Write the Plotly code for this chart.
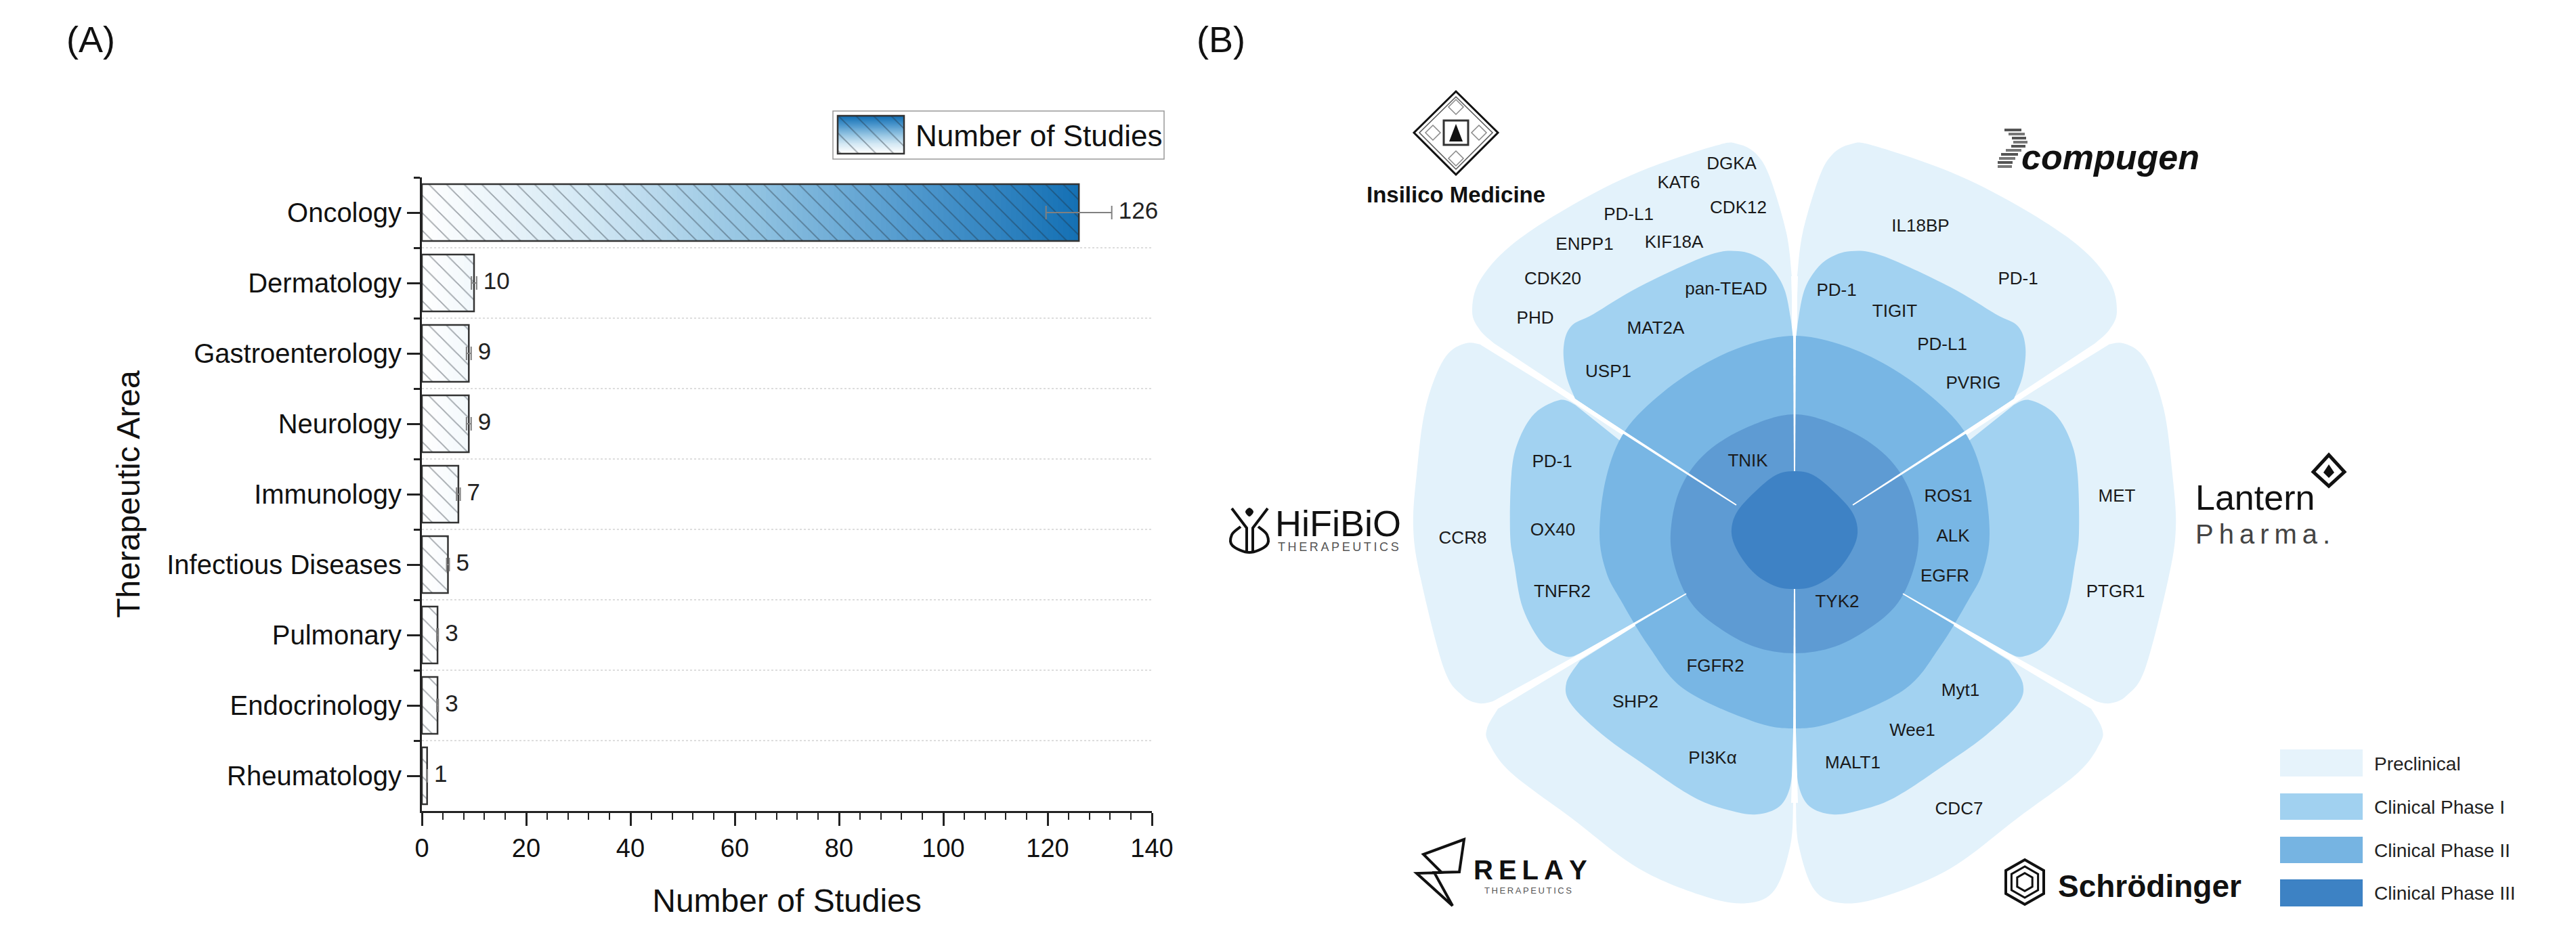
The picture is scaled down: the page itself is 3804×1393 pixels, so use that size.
import numpy as np
import plotly.graph_objects as go

# panel A data
categories = ["Oncology", "Dermatology", "Gastroenterology", "Neurology", "Immunology",
              "Infectious Diseases", "Pulmonary", "Endocrinology", "Rheumatology"]
studies = [126, 10, 9, 9, 7, 5, 3, 3, 1]
error_pct = 5
x_ticks = [0, 20, 40, 60, 80, 100, 120, 140]

# panel B labels (positions are in reference pixels, the page-sized x2/y2 axes)
gene_names = ["DGKA", "KAT6", "CDK12", "PD-L1", "ENPP1", "KIF18A", "CDK20", "PHD", "pan-TEAD", "MAT2A",
              "USP1", "PD-1", "TNIK", "PD-1", "TIGIT", "IL18BP", "PD-1", "PD-L1", "PVRIG", "OX40",
              "CCR8", "TNFR2", "TYK2", "FGFR2", "SHP2", "PI3Kα", "MALT1", "ROS1", "ALK", "EGFR",
              "MET", "PTGR1", "Myt1", "Wee1", "CDC7"]
gene_x = [2557, 2479, 2567, 2405, 2340, 2472, 2293, 2267, 2549, 2445,
          2375, 2292, 2581, 2712, 2798, 2836, 2980, 2868, 2914, 2293,
          2160, 2307, 2713, 2533, 2415, 2529, 2736, 2877, 2884, 2872,
          3126, 3124, 2895, 2824, 2893]
gene_y = [243, 271, 308, 318, 362, 359, 413, 471, 428, 486,
          550, 683, 682, 430, 461, 335, 413, 510, 567, 784,
          796, 875, 890, 985, 1038, 1121, 1128, 734, 793, 852,
          734, 875, 1021, 1080, 1196]
phases = ["Preclinical", "Clinical Phase I", "Clinical Phase II", "Clinical Phase III"]
phase_swatch_colors = ["#e6f3fb", "#a1d1f0", "#76b4e2", "#3d82c4"]

W, H = 3804, 1393
CX = 2650
FONT = "Liberation Sans"
PRE, PH1, PH2, PH3, CORE = "#e3f2fb", "#a2d2f1", "#78b6e4", "#5e9bd3", "#3e82c5"
BAR_SCALE = [[0, "#ffffff"], [0.25, "#d3e8f4"], [0.5, "#93c4e2"], [0.75, "#4f98cd"], [1, "#1470b4"]]
# plotly spaces diagonal hatch by size*sqrt(2) along x, so 18.4 gives the 26 px of the reference
HATCH = dict(shape="\\", size=18.4, solidity=0.1, fgcolor="rgba(30,40,50,0.8)", bgcolor="rgba(0,0,0,0)")


def mirror(pts):
    return [(2 * CX - x, y) for x, y in pts]


def spline(pts, closed=False):
    """Catmull-Rom through the anchors, written as SVG cubic segments."""
    n = len(pts)
    d = f"M{pts[0][0]},{pts[0][1]}"
    for i in range(n if closed else n - 1):
        if closed:
            p0, p1, p2, p3 = pts[(i - 1) % n], pts[i], pts[(i + 1) % n], pts[(i + 2) % n]
        else:
            p0, p1, p2, p3 = pts[max(i - 1, 0)], pts[i], pts[i + 1], pts[min(i + 2, n - 1)]
        c1 = (p1[0] + (p2[0] - p0[0]) / 6, p1[1] + (p2[1] - p0[1]) / 6)
        c2 = (p2[0] - (p3[0] - p1[0]) / 6, p2[1] - (p3[1] - p1[1]) / 6)
        d += f"C{c1[0]:.1f},{c1[1]:.1f} {c2[0]:.1f},{c2[1]:.1f} {p2[0]},{p2[1]}"
    return d + ("Z" if closed else "")


def petal(curve, inner):
    # smooth outer edge, straight run back through the middle of the flower
    return spline(curve) + "".join(f"L{x},{y}" for x, y in inner) + "Z"


def poly(pts, close=True):
    return "M" + "L".join(f"{x},{y}" for x, y in pts) + ("Z" if close else "")


def wedge(outer, inner, w_out, w_in):
    dx, dy = inner[0] - outer[0], inner[1] - outer[1]
    ln = (dx * dx + dy * dy) ** 0.5
    nx, ny = -dy / ln, dx / ln
    return poly([(outer[0] + nx * w_out / 2, outer[1] + ny * w_out / 2),
                 (inner[0] + nx * w_in / 2, inner[1] + ny * w_in / 2),
                 (inner[0] - nx * w_in / 2, inner[1] - ny * w_in / 2),
                 (outer[0] - nx * w_out / 2, outer[1] - ny * w_out / 2)])


shapes = []


def add_path(d, fill=None, line=None, width=0, layer="below"):
    shapes.append(dict(type="path", path=d, xref="x2", yref="y2", layer=layer,
                       fillcolor=fill or "rgba(0,0,0,0)",
                       line=dict(color=line or "rgba(0,0,0,0)", width=width)))


# flower outlines in pixels
pre_top = [(2646, 408), (2638, 344), (2614, 263), (2594, 228), (2567, 213), (2534, 215), (2420, 254),
           (2320, 304), (2232, 362), (2185, 415), (2174, 460), (2185, 487), (2206, 507)]
pre_top_in = [(2570, 748), (2646, 790)]
pre_side = [(2199, 513), (2165, 507), (2132, 531), (2105, 603), (2092, 700), (2087, 780), (2098, 855),
            (2132, 987), (2159, 1027), (2185, 1039), (2212, 1034)]
pre_side_in = [(2490, 877), (2560, 785), (2556, 748)]
pre_bot = [(2648, 1186), (2644, 1248), (2621, 1314), (2581, 1334), (2520, 1325), (2420, 1283), (2320, 1208),
           (2232, 1142), (2199, 1098), (2196, 1076), (2212, 1047)]
pre_bot_in = [(2490, 880), (2646, 790)]

ph1_top = [(2648, 500), (2644, 469), (2636, 430), (2621, 402), (2600, 382), (2567, 371), (2520, 378),
           (2420, 424), (2353, 464), (2320, 482), (2309, 513), (2313, 555), (2326, 589)]
ph1_top_in = [(2560, 745), (2646, 790)]
ph1_side = [(2326, 598), (2303, 591), (2266, 611), (2242, 652), (2232, 700), (2230, 788), (2236, 833),
            (2249, 899), (2279, 952), (2313, 970), (2333, 965)]
ph1_side_in = [(2490, 877), (2560, 785)]
ph1_bot = [(2333, 976), (2313, 1009), (2320, 1040), (2366, 1085), (2420, 1124), (2500, 1177), (2554, 1197),
           (2594, 1203), (2628, 1191), (2644, 1160), (2648, 1110)]
ph1_bot_in = [(2648, 800), (2490, 877)]

ph2_half = [(2650, 496), (2585, 508), (2520, 536), (2455, 580), (2400, 636), (2372, 705), (2362, 788),
            (2372, 845), (2393, 886), (2435, 955), (2487, 1018), (2587, 1065), (2650, 1076)]
ph3_half = [(2650, 612), (2574, 634), (2515, 673), (2480, 725), (2467, 788), (2474, 840), (2497, 890),
            (2535, 925), (2590, 955), (2650, 965)]
core_half = [(2650, 696), (2622, 702), (2590, 728), (2564, 758), (2557, 788), (2568, 818), (2592, 848),
             (2622, 866), (2650, 870)]

for curve, inner, color in [(pre_top, pre_top_in, PRE), (pre_side, pre_side_in, PRE), (pre_bot, pre_bot_in, PRE),
                            (ph1_top, ph1_top_in, PH1), (ph1_side, ph1_side_in, PH1), (ph1_bot, ph1_bot_in, PH1)]:
    add_path(petal(curve, inner), fill=color)
    add_path(petal(mirror(curve), mirror(inner)), fill=color)

for half, color in [(ph2_half, PH2), (ph3_half, PH3)]:
    add_path(spline(half + mirror(half)[-2:0:-1], closed=True), fill=color)

# white gaps between the petals: wide outside, hairline toward the core
for outer, mid, inner in [((2190, 505), (2330, 595), (2564, 746)), ((2205, 1042), (2330, 970), (2490, 877))]:
    for a, b, wa, wb in [(outer, mid, 11, 5), (mid, inner, 5, 2)]:
        add_path(wedge(a, b, wa, wb), fill="#ffffff")
        add_path(wedge(mirror([a])[0], mirror([b])[0], wa, wb), fill="#ffffff")
add_path(wedge((CX, 408), (CX, 500), 10, 4), fill="#ffffff")
add_path(wedge((CX, 500), (CX, 696), 4, 2), fill="#ffffff")
add_path(wedge((CX, 1186), (CX, 1080), 10, 4), fill="#ffffff")
add_path(wedge((CX, 1080), (CX, 870), 4, 2), fill="#ffffff")
add_path(spline(core_half + mirror(core_half)[-2:0:-1], closed=True), fill=CORE)

# phase legend swatches
for (y0, y1), color in zip([(1107, 1147), (1172, 1211), (1236, 1275), (1299, 1339)], phase_swatch_colors):
    add_path(poly([(3367, y0), (3489, y0), (3489, y1), (3367, y1)]), fill=color)

# legend frame of panel A
add_path(poly([(1230, 164), (1719, 164), (1719, 235), (1230, 235)]), line="#999999", width=1.5)

# logos, simplified to a few strokes
add_path(poly([(2150, 135), (2212, 196), (2150, 258), (2088, 196)]), line="#111111", width=3)
add_path(poly([(2150, 143), (2204, 196), (2150, 250), (2096, 196)]), line="#555555", width=1.5)
add_path(poly([(2132, 178), (2168, 178), (2168, 214), (2132, 214)]), line="#333333", width=3)
add_path(poly([(2150, 183), (2160, 209), (2140, 209)]), fill="#111111")
for cx, cy in [(2150, 158), (2116, 196), (2184, 196), (2150, 234)]:
    add_path(poly([(cx, cy - 11), (cx + 11, cy), (cx, cy + 11), (cx - 11, cy)]), line="#888888", width=1.5)

compugen_rows = [(190, 2960, 2985), (196, 2966, 2990), (202, 2971, 2992), (208, 2973, 2994), (214, 2970, 2991),
                 (220, 2962, 2985), (226, 2955, 2980), (232, 2952, 2976), (238, 2950, 2972), (244, 2950, 2971)]
for i, (y, x0, x1) in enumerate(compugen_rows):
    add_path(poly([(x0, y), (x1, y), (x1, y + 4), (x0, y + 4)]), fill="#777777" if i % 2 else "#555555")

add_path(spline([(1832, 778), (1819, 790), (1820, 806), (1845, 816), (1870, 806), (1871, 790), (1858, 778)]),
         line="#111111", width=4)
add_path(poly([(1819, 751), (1841, 780), (1841, 816)], close=False), line="#111111", width=4)
add_path(poly([(1872, 751), (1850, 780), (1850, 816)], close=False), line="#111111", width=4)
add_path(spline([(1845, 750), (1851, 756), (1845, 763), (1839, 756)], closed=True), fill="#111111")

add_path(poly([(3439, 672), (3462, 697), (3439, 718), (3416, 697)]), line="#111111", width=5)
add_path(poly([(3439, 686), (3447, 698), (3439, 706), (3431, 698)]), fill="#111111")

add_path(poly([(2162, 1240), (2102, 1262), (2129, 1289), (2092, 1290), (2145, 1338), (2118, 1289),
               (2155, 1288)]), line="#111111", width=4)

hexagon = [(0, -33), (28, -17), (28, 17), (0, 33), (-28, 17), (-28, -17)]
for scale, lw in [(1, 4), (0.7, 3), (0.4, 3)]:
    add_path(poly([(2990 + x * scale, 1303 + y * scale) for x, y in hexagon]), line="#111111", width=lw)

# bar grid at the category boundaries
for i in range(len(categories) - 1):
    shapes.append(dict(type="line", xref="x", yref="y", x0=0, x1=140, y0=i + 0.5, y1=i + 0.5, layer="below",
                       line=dict(color="#dddddd", width=2, dash="dot")))

y_pos = list(range(len(categories)))
fig = go.Figure()

# gradient under the hatched bars, one brick per study
fig.add_trace(go.Heatmap(
    x=list(range(max(studies) + 1)), y=y_pos,
    z=[[c + 0.5 if c < v else None for c in range(max(studies))] for v in studies],
    colorscale=BAR_SCALE, zmin=0, zmax=max(studies), showscale=False, ygap=20, hoverinfo="skip",
))
fig.add_trace(go.Bar(
    x=studies, y=y_pos, orientation="h", width=0.81, showlegend=False,
    marker=dict(color="rgba(0,0,0,0)", line=dict(color="#333333", width=2.5), pattern=HATCH),
    error_x=dict(type="percent", value=error_pct, color="#808080", thickness=2, width=10),
))
fig.add_trace(go.Scatter(
    x=[v * (1 + error_pct / 100) + 1.3 for v in studies], y=y_pos, mode="text",
    text=[str(v) for v in studies], textposition="middle right", showlegend=False, hoverinfo="skip",
    textfont=dict(family=FONT, size=35, color="#222222"), cliponaxis=False,
))

# legend swatch of panel A
fig.add_trace(go.Heatmap(
    x=[1237, 1335], y=list(np.linspace(171, 227, 29)),
    z=[[126 * (1 - i / 27)] for i in range(28)],
    colorscale=BAR_SCALE, zmin=0, zmax=126, showscale=False, hoverinfo="skip", xaxis="x2", yaxis="y2",
))
fig.add_trace(go.Bar(
    x=[1286], y=[56], base=[171], width=[98], xaxis="x2", yaxis="y2", showlegend=False, hoverinfo="skip",
    marker=dict(color="rgba(0,0,0,0)", line=dict(color="#333333", width=2.5), pattern=HATCH),
))

# gene names on the flower
fig.add_trace(go.Scatter(
    x=gene_x, y=gene_y, text=gene_names, mode="text", textposition="middle center", showlegend=False,
    hoverinfo="skip", xaxis="x2", yaxis="y2", textfont=dict(family=FONT, size=26, color="#1a1a1a"),
))


def label(text, x, y, size, color="#111111", family=FONT, anchor="center", **kw):
    return dict(text=text, x=x, y=y, xref="x2", yref="y2", showarrow=False, xanchor=anchor, yanchor="middle",
                font=dict(family=family, size=size, color=color), **kw)


THIN = "\u2009"
annotations = [
    label("(A)", 134, 58, 54),
    label("(B)", 1803, 58, 54),
    label("Number of Studies", 1350, 200, 44, anchor="left"),
    label("<b>Insilico Medicine</b>", 2150, 287, 33),
    label("<b><i>compugen</i></b>", 3116, 232, 52),
    label("HiFiBiO", 1976, 773, 54),
    label(THIN.join("THERAPEUTICS"), 1976, 808, 18, color="#555555"),
    label("Lantern", 3240, 735, 52, anchor="left"),
    label(THIN.join("Pharma."), 3240, 789, 40, anchor="left", color="#444444"),
    label("<b>" + THIN.join("RELAY") + "</b>", 2260, 1285, 40),
    label(THIN.join("THERAPEUTICS"), 2256, 1315, 13, color="#555555"),
    label("<b>Schrödinger</b>", 3174, 1309, 46),
]
for name, y in zip(phases, [1128, 1192, 1256, 1319]):
    annotations.append(label(name, 3504, y, 28, anchor="left", color="#222222"))

fig.update_layout(
    width=W, height=H, margin=dict(l=0, r=0, t=0, b=0, pad=0, autoexpand=False), autosize=False,
    paper_bgcolor="#ffffff", plot_bgcolor="rgba(0,0,0,0)", barmode="overlay", showlegend=False,
    shapes=shapes, annotations=annotations,
    xaxis=dict(
        domain=[623 / W, 1701 / W], range=[0, 140], tickmode="array", tickvals=x_ticks,
        ticks="outside", ticklen=19, tickwidth=2.5, tickcolor="#222222", showgrid=False, zeroline=False,
        showline=True, linecolor="#222222", linewidth=3, anchor="y",
        tickfont=dict(family=FONT, size=38, color="#111111"), ticklabelstandoff=0,
        minor=dict(tickmode="array", tickvals=[v for v in range(0, 141, 4) if v % 20],
                   ticks="outside", ticklen=10, tickwidth=2, tickcolor="#222222", showgrid=False),
        title=dict(text="Number of Studies", font=dict(family=FONT, size=48, color="#111111"), standoff=41),
    ),
    yaxis=dict(
        domain=[1 - 1198 / H, 1 - 262 / H], range=[len(categories) - 0.5, -0.5], tickmode="array",
        tickvals=y_pos, ticktext=categories, ticks="outside", ticklen=19, tickwidth=2.5, tickcolor="#222222",
        showgrid=False, zeroline=False, showline=True, linecolor="#222222", linewidth=3, anchor="x",
        tickfont=dict(family=FONT, size=40, color="#111111"),
        minor=dict(tickmode="array", tickvals=[i - 0.5 for i in range(len(categories))],
                   ticks="outside", ticklen=9, tickwidth=2.5, tickcolor="#222222", showgrid=False),
        title=dict(text="Therapeutic Area", font=dict(family=FONT, size=48, color="#111111"), standoff=25),
    ),
    xaxis2=dict(domain=[0, 1], range=[0, W], visible=False, anchor="y2", fixedrange=True),
    yaxis2=dict(domain=[0, 1], range=[H, 0], visible=False, anchor="x2", fixedrange=True),
)

fig.write_html("out.html", config={"displayModeBar": False}, post_script="document.body.style.margin='0';")
